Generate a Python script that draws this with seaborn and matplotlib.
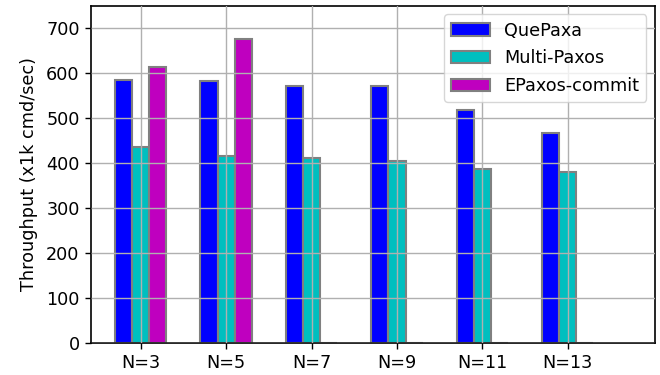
import numpy as np
import pandas as pd
import seaborn as sns
import matplotlib
matplotlib.use("Agg")
import matplotlib.pyplot as plt

# Throughput per replica count (x1k cmd/sec)
groups = ["N=3", "N=5", "N=7", "N=9", "N=11", "N=13"]
protocols = ["QuePaxa", "Multi-Paxos", "EPaxos-commit"]
quepaxa = [584, 582, 572, 571, 517, 467]
multipaxos = [435, 415, 411, 405, 386, 380]
epaxos_commit = [614, 675, 0, 0, 0, 0]
colors = ["#0000ff", "#00bfbf", "#bf00bf"]

df = pd.DataFrame({
    "group": groups * 3,
    "protocol": np.repeat(protocols, len(groups)),
    "throughput": quepaxa + multipaxos + epaxos_commit,
})

sns.set_style("ticks", {
    "axes.edgecolor": "black", "text.color": "black",
    "xtick.color": "black", "ytick.color": "black",
    "axes.labelcolor": "black",
})
plt.rcParams["font.family"] = ["DejaVu Sans"]
fs = 12.7
plt.rcParams["font.size"] = fs

fig = plt.figure(figsize=(6.6, 3.75), dpi=100)
ax = fig.add_axes([0.1374, 0.0862, 0.9924 - 0.1374, 0.985 - 0.0862])

sns.barplot(data=df, x="group", y="throughput", hue="protocol",
            palette=colors, order=groups, hue_order=protocols,
            width=0.6, gap=0, edgecolor="gray", linewidth=1.5,
            saturation=1, ax=ax)

ax.set_ylim(0, 750)
ax.set_xlim(-0.585, 6.02)
ax.set_yticks(range(0, 701, 100))
ax.set_xlabel("")
ax.set_ylabel("Throughput (x1k cmd/sec)", fontsize=fs, labelpad=6)
ax.tick_params(axis="both", labelsize=fs, length=4.5, width=1,
               bottom=True, left=True)
ax.grid(True, color="#b0b0b0", linewidth=1)
ax.set_axisbelow(False)
for s in ax.spines.values():
    s.set_visible(True)
    s.set_color("black")
    s.set_linewidth(1.2)

leg = ax.legend(loc="upper right", fontsize=fs, framealpha=0.8,
                handlelength=2.2, labelspacing=0.55)
for h in leg.legend_handles:
    h.set_edgecolor("gray")

fig.savefig("out.png", dpi=100)
